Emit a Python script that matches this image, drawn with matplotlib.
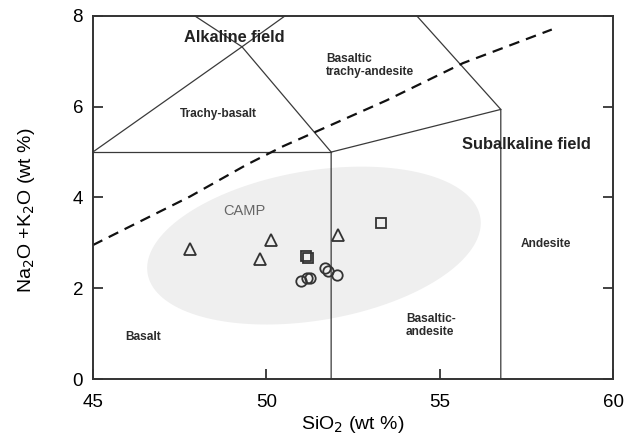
import matplotlib
matplotlib.use("Agg")
import matplotlib.pyplot as plt
import numpy as np

plt.rcParams['font.family'] = ['Liberation Sans', 'DejaVu Sans']

# TAS field boundaries (SiO2, Na2O+K2O)
bound_tb_right_x = [45.0, 49.3, 50.54]
bound_tb_right_y = [5.0, 7.32, 8.0]
bound_tb_left_x = [51.87, 49.3, 47.94]
bound_tb_left_y = [5.0, 7.32, 8.0]
bound_basalt_top_x = [45.0, 51.87]
bound_basalt_top_y = [5.0, 5.0]
bound_ba_x = [51.87, 51.87, 56.76, 56.76]
bound_ba_y = [0.0, 5.0, 5.94, 0.0]
bound_bta_x = [56.76, 54.34]
bound_bta_y = [5.94, 8.0]

# alkaline / subalkaline divide (dashed)
divide_x = [45.0, 46.07, 47.8, 49.43, 50.49, 53.47, 55.67, 58.23]
divide_y = [2.95, 3.36, 4.02, 4.72, 5.13, 6.14, 6.96, 7.70]

# samples
tri_x = [47.80, 49.82, 50.15, 52.08]
tri_y = [2.86, 2.64, 3.06, 3.17]
sq_x = [51.15, 51.21, 53.31]
sq_y = [2.70, 2.67, 3.44]
circ_x = [50.99, 51.16, 51.26, 51.69, 51.79, 52.03]
circ_y = [2.16, 2.22, 2.23, 2.44, 2.38, 2.29]

# CAMP field (ellipse: centre, semi-axes in screen pixels, tilt)
camp_center = (51.375, 2.94)
camp_a_px, camp_b_px, camp_tilt = 168.7, 74.8, 9.6

fig = plt.figure(figsize=(6.27, 4.42), dpi=100)
ax = fig.add_axes([0.148, 0.1425, 0.830, 0.8215])
ax.set_xlim(45, 60)
ax.set_ylim(0, 8)

# pixel per data unit, to draw the tilted ellipse as on screen
bb = ax.get_window_extent()
sx = bb.width / 15.0
sy = bb.height / 8.0
t = np.linspace(0, 2 * np.pi, 200)
th = np.radians(camp_tilt)
ex = camp_center[0] + (camp_a_px * np.cos(t) * np.cos(th) - camp_b_px * np.sin(t) * np.sin(th)) / sx
ey = camp_center[1] + (camp_a_px * np.cos(t) * np.sin(th) + camp_b_px * np.sin(t) * np.cos(th)) / sy
ax.fill(ex, ey, color='#efefef', lw=0, zorder=0)

lc = '#3a3a3a'
for xs, ys in [(bound_tb_right_x, bound_tb_right_y), (bound_tb_left_x, bound_tb_left_y),
               (bound_basalt_top_x, bound_basalt_top_y), (bound_ba_x, bound_ba_y),
               (bound_bta_x, bound_bta_y)]:
    ax.plot(xs, ys, color=lc, lw=0.9, zorder=2)

ax.plot(divide_x, divide_y, color='#111111', lw=1.6, ls=(0, (4.8, 3.2)), zorder=2)

mk = dict(ls='none', mfc='none', mec='#333333', mew=1.3, zorder=3)
ax.plot(tri_x, tri_y, marker='^', ms=9, **mk)
ax.plot(sq_x, sq_y, marker='s', ms=7, **mk)
ax.plot(circ_x, circ_y, marker='o', ms=7.5, **mk)

tc = '#2b2b2b'
ax.text(49.08, 7.515, 'Alkaline field', fontsize=11.8, fontweight='bold', color='#222222',
        ha='center', va='center')
ax.text(57.49, 5.16, 'Subalkaline field', fontsize=11.8, fontweight='bold', color='#222222',
        ha='center', va='center')
ax.text(48.63, 5.84, 'Trachy-basalt', fontsize=8.6, fontweight='bold', color=tc,
        ha='center', va='center')
ax.text(51.72, 6.90, 'Basaltic\ntrachy-andesite', fontsize=8.6, fontweight='bold', color=tc,
        ha='left', va='center', linespacing=1.1)
ax.text(49.38, 3.70, 'CAMP', fontsize=10.5, color='#666666', ha='center', va='center')
ax.text(46.44, 0.93, 'Basalt', fontsize=8.6, fontweight='bold', color=tc,
        ha='center', va='center')
ax.text(54.03, 1.18, 'Basaltic-\nandesite', fontsize=8.6, fontweight='bold', color=tc,
        ha='left', va='center', linespacing=1.1)
ax.text(58.07, 2.98, 'Andesite', fontsize=8.6, fontweight='bold', color=tc,
        ha='center', va='center')

ax.set_xticks([45, 50, 55, 60])
ax.set_yticks([0, 2, 4, 6, 8])
ax.tick_params(direction='in', length=7, width=1.3, labelsize=13.5,
               right=True, top=False, color='#333333')
ax.tick_params(axis='x', pad=11)
ax.tick_params(axis='y', pad=7)
for s in ax.spines.values():
    s.set_linewidth(1.4)
    s.set_color('#333333')

ax.set_xlabel('SiO$_2$ (wt %)', fontsize=14)
ax.set_ylabel('Na$_2$O +K$_2$O (wt %)', fontsize=14)
ax.xaxis.set_label_coords(0.5, -0.095)
ax.yaxis.set_label_coords(-0.108, 0.465)

fig.savefig('out.png', dpi=100)
